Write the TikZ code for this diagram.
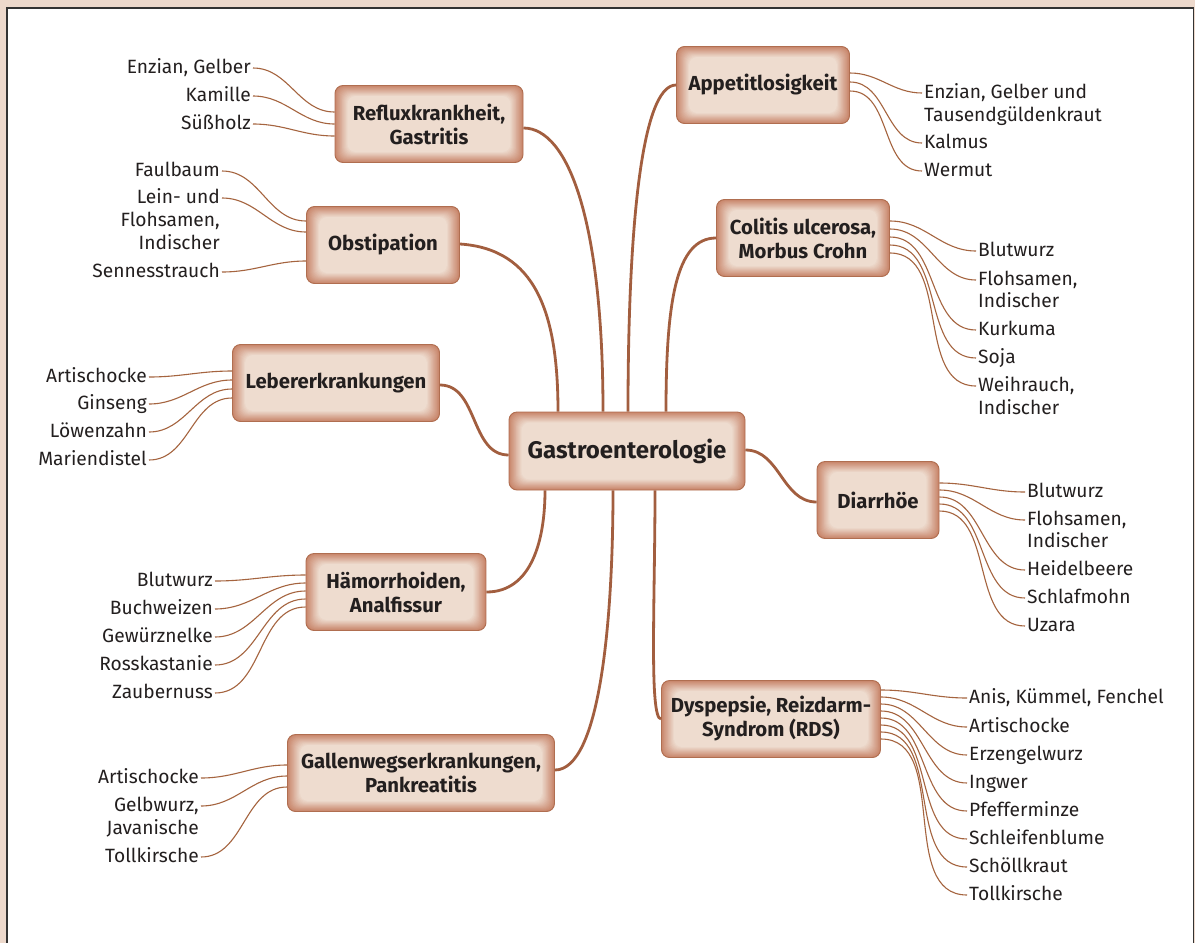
\documentclass[tikz,border=0pt]{standalone}
\usepackage{fontspec}
\setmainfont{Fira Sans}
\definecolor{framebg}{HTML}{EDD9CC}
\definecolor{frameline}{HTML}{333333}
\definecolor{boxlight}{HTML}{EEDCCF}
\definecolor{boxdark}{HTML}{C8856A}
\definecolor{boxline}{HTML}{B06E50}
\definecolor{mainc}{HTML}{A25E3F}
\definecolor{leafc}{HTML}{A5643F}
\definecolor{txt}{HTML}{231F1F}
\begin{document}
\begin{tikzpicture}[x=1pt,y=-1pt,
  gbox/.style={rounded corners=8pt, draw=boxline, line width=0.9pt,
    minimum height=77pt, align=center, text=txt,
    font=\bfseries\fontsize{20.3}{24}\selectfont,
    path picture={
      \foreach \i in {0,...,14}{
        \pgfmathtruncatemacro\m{100-\i*100/14}
        \fill[boxdark!\m!boxlight, rounded corners=8pt]
          ([xshift=\i*0.9pt, yshift=\i*0.75pt]path picture bounding box.south west)
          rectangle ([xshift=-\i*0.9pt, yshift=-\i*0.75pt]path picture bounding box.north east);
      }}},
  leafL/.style={anchor=east, inner sep=2pt, text height=14pt, text depth=4pt, text=txt,
    font=\fontsize{19.2}{23}\selectfont},
  leafR/.style={leafL, anchor=west},
  mainline/.style={draw=mainc, line width=2.8pt},
  leafline/.style={draw=leafc, line width=1.1pt}
]
\useasboundingbox (0,0) rectangle (1195,943);
\fill[framebg] (0,0) rectangle (1195,943);
\draw[fill=white, draw=frameline, line width=1.3pt] (7,8) rectangle (1193.5,965);

% boxes
\node[gbox, minimum width=236pt, minimum height=78pt, font=\bfseries\fontsize{24}{28}\selectfont] (g) at (627,451) {Gastroenterologie};
\node[gbox, minimum width=188pt] (refl) at (429,124) {Refluxkrankheit,\\Gastritis};
\node[gbox, minimum width=153pt] (obst) at (383,245) {Obstipation};
\node[gbox, minimum width=207pt] (leb) at (336,383) {Lebererkrankungen};
\node[gbox, minimum width=180pt] (ham) at (396,592) {Hämorrhoiden,\\Analfissur};
\node[gbox, minimum width=267pt] (gal) at (421,773) {Gallenwegserkrankungen,\\Pankreatitis};
\node[gbox, minimum width=173pt] (app) at (763,85) {Appetitlosigkeit};
\node[gbox, minimum width=173pt] (col) at (803,238) {Colitis ulcerosa,\\Morbus Crohn};
\node[gbox, minimum width=122pt] (dia) at (878,500) {Diarrhöe};
\node[gbox, minimum width=219pt] (dys) at (771,719) {Dyspepsie, Reizdarm-\\Syndrom (RDS)};

% main connectors
\draw[mainline] ([yshift=-4pt]refl.east) .. controls +(45,0) and +(0,-190) .. ([xshift=-24pt]g.north);
\draw[mainline] ([yshift=1pt]obst.east) .. controls +(75,5) and +(0,-100) .. ([xshift=-69pt]g.north);
\draw[mainline] (app.west) .. controls +(-35,0) and +(0,-180) .. ([xshift=1pt]g.north);
\draw[mainline] (col.west) .. controls +(-40,0) and +(0,-110) .. ([xshift=39pt]g.north);
\draw[mainline] ([yshift=-2pt]leb.east) to[out=0,in=180] ([yshift=-4pt]g.west);
\draw[mainline] ([yshift=1pt]g.east) to[out=0,in=180] ([yshift=-2pt]dia.west);
\draw[mainline] (ham.east) .. controls +(45,0) and +(0,50) .. ([xshift=-82pt]g.south);
\draw[mainline] ([yshift=3pt]gal.east) .. controls +(45,0) and +(0,130) .. ([xshift=-14pt]g.south);
\draw[mainline] (dys.west) .. controls +(-12,0) and +(0,110) .. ([xshift=28pt]g.south);

% Reflux leaves
\node[leafL] (r1) at (253,68) {Enzian, Gelber};
\node[leafL] (r2) at (253,96) {Kamille};
\node[leafL] (r3) at (253,124) {Süßholz};
\draw[leafline] (r1.east) to[out=0,in=180] ([yshift=12pt]refl.west);
\draw[leafline] (r2.east) to[out=0,in=180] (refl.west);
\draw[leafline] (r3.east) to[out=0,in=180] ([yshift=-12pt]refl.west);

% Obstipation leaves
\node[leafL] (o1) at (222,171) {Faulbaum};
\node[leafL] (o2) at (222,198) {Lein- und};
\node[leafL] (o2b) at (222,221) {Flohsamen,};
\node[leafL] (o2c) at (222,244) {Indischer};
\node[leafL] (o3) at (222,272) {Sennesstrauch};
\draw[leafline] (o1.east) to[out=0,in=180] ([yshift=24pt]obst.west);
\draw[leafline] (o2.east) to[out=0,in=180] ([yshift=13pt]obst.west);
\draw[leafline] (o3.east) to[out=0,in=180] ([yshift=-16pt]obst.west);

% Leber leaves
\node[leafL] (b1) at (149,377) {Artischocke};
\node[leafL] (b2) at (149,404) {Ginseng};
\node[leafL] (b3) at (149,432) {Löwenzahn};
\node[leafL] (b4) at (149,460) {Mariendistel};
\draw[leafline] (b1.east) to[out=0,in=180] ([yshift=12pt]leb.west);
\draw[leafline] (b2.east) to[out=0,in=180] ([yshift=3pt]leb.west);
\draw[leafline] (b3.east) to[out=0,in=180] ([yshift=-6pt]leb.west);
\draw[leafline] (b4.east) to[out=0,in=180] ([yshift=-15pt]leb.west);

% Haemorrhoiden leaves
\node[leafL] (h1) at (215,581) {Blutwurz};
\node[leafL] (h2) at (215,609) {Buchweizen};
\node[leafL] (h3) at (215,637) {Gewürznelke};
\node[leafL] (h4) at (215,665) {Rosskastanie};
\node[leafL] (h5) at (215,693) {Zaubernuss};
\draw[leafline] (h1.east) to[out=0,in=180] ([yshift=17pt]ham.west);
\draw[leafline] (h2.east) to[out=0,in=180] ([yshift=9pt]ham.west);
\draw[leafline] (h3.east) to[out=0,in=180] ([yshift=1pt]ham.west);
\draw[leafline] (h4.east) to[out=0,in=180] ([yshift=-7pt]ham.west);
\draw[leafline] (h5.east) to[out=0,in=180] ([yshift=-15pt]ham.west);

% Gallen leaves
\node[leafL] (k1) at (201,778) {Artischocke};
\node[leafL] (k2) at (201,806) {Gelbwurz,};
\node[leafL] (k2b) at (201,829) {Javanische};
\node[leafL] (k3) at (201,857) {Tollkirsche};
\draw[leafline] (k1.east) to[out=0,in=180] ([yshift=8pt]gal.west);
\draw[leafline] (k2.east) to[out=0,in=180] ([yshift=-3pt]gal.west);
\draw[leafline] (k3.east) to[out=0,in=180] ([yshift=-14pt]gal.west);

% Appetit leaves
\node[leafR] (a1) at (922,93) {Enzian, Gelber und};
\node[leafR] (a1b) at (922,116) {Tausendgüldenkraut};
\node[leafR] (a2) at (922,143) {Kalmus};
\node[leafR] (a3) at (922,171) {Wermut};
\draw[leafline] ([yshift=12pt]app.east) to[out=0,in=180] (a1.west);
\draw[leafline] ([yshift=3pt]app.east) to[out=0,in=180] (a2.west);
\draw[leafline] ([yshift=-6pt]app.east) to[out=0,in=180] (a3.west);

% Colitis leaves
\node[leafR] (c1) at (976,251) {Blutwurz};
\node[leafR] (c2) at (976,280) {Flohsamen,};
\node[leafR] (c2b) at (976,302) {Indischer};
\node[leafR] (c3) at (976,330) {Kurkuma};
\node[leafR] (c4) at (976,358) {Soja};
\node[leafR] (c5) at (976,386) {Weihrauch,};
\node[leafR] (c5b) at (976,409) {Indischer};
\draw[leafline] ([yshift=17pt]col.east) to[out=0,in=180] (c1.west);
\draw[leafline] ([yshift=9pt]col.east) to[out=0,in=180] (c2.west);
\draw[leafline] ([yshift=1pt]col.east) to[out=0,in=180] (c3.west);
\draw[leafline] ([yshift=-7pt]col.east) to[out=0,in=180] (c4.west);
\draw[leafline] ([yshift=-15pt]col.east) to[out=0,in=180] (c5.west);

% Diarrhoe leaves
\node[leafR] (d1) at (1025,492) {Blutwurz};
\node[leafR] (d2) at (1025,520) {Flohsamen,};
\node[leafR] (d2b) at (1025,542) {Indischer};
\node[leafR] (d3) at (1025,570) {Heidelbeere};
\node[leafR] (d4) at (1025,598) {Schlafmohn};
\node[leafR] (d5) at (1025,626) {Uzara};
\draw[leafline] ([yshift=17pt]dia.east) to[out=0,in=180] (d1.west);
\draw[leafline] ([yshift=10pt]dia.east) to[out=0,in=180] (d2.west);
\draw[leafline] ([yshift=3pt]dia.east) to[out=0,in=180] (d3.west);
\draw[leafline] ([yshift=-4pt]dia.east) to[out=0,in=180] (d4.west);
\draw[leafline] ([yshift=-11pt]dia.east) to[out=0,in=180] (d5.west);

% Dyspepsie leaves
\node[leafR] (y1) at (967,698) {Anis, Kümmel, Fenchel};
\node[leafR] (y2) at (967,727) {Artischocke};
\node[leafR] (y3) at (967,755) {Erzengelwurz};
\node[leafR] (y4) at (967,783) {Ingwer};
\node[leafR] (y5) at (967,811) {Pfefferminze};
\node[leafR] (y6) at (967,839) {Schleifenblume};
\node[leafR] (y7) at (967,867) {Schöllkraut};
\node[leafR] (y8) at (967,895) {Tollkirsche};
\draw[leafline] ([yshift=29pt]dys.east) to[out=0,in=180] (y1.west);
\draw[leafline] ([yshift=22pt]dys.east) to[out=0,in=180] (y2.west);
\draw[leafline] ([yshift=15pt]dys.east) to[out=0,in=180] (y3.west);
\draw[leafline] ([yshift=8pt]dys.east) to[out=0,in=180] (y4.west);
\draw[leafline] ([yshift=1pt]dys.east) to[out=0,in=180] (y5.west);
\draw[leafline] ([yshift=-6pt]dys.east) to[out=0,in=180] (y6.west);
\draw[leafline] ([yshift=-13pt]dys.east) to[out=0,in=180] (y7.west);
\draw[leafline] ([yshift=-20pt]dys.east) to[out=0,in=180] (y8.west);
\end{tikzpicture}
\end{document}
